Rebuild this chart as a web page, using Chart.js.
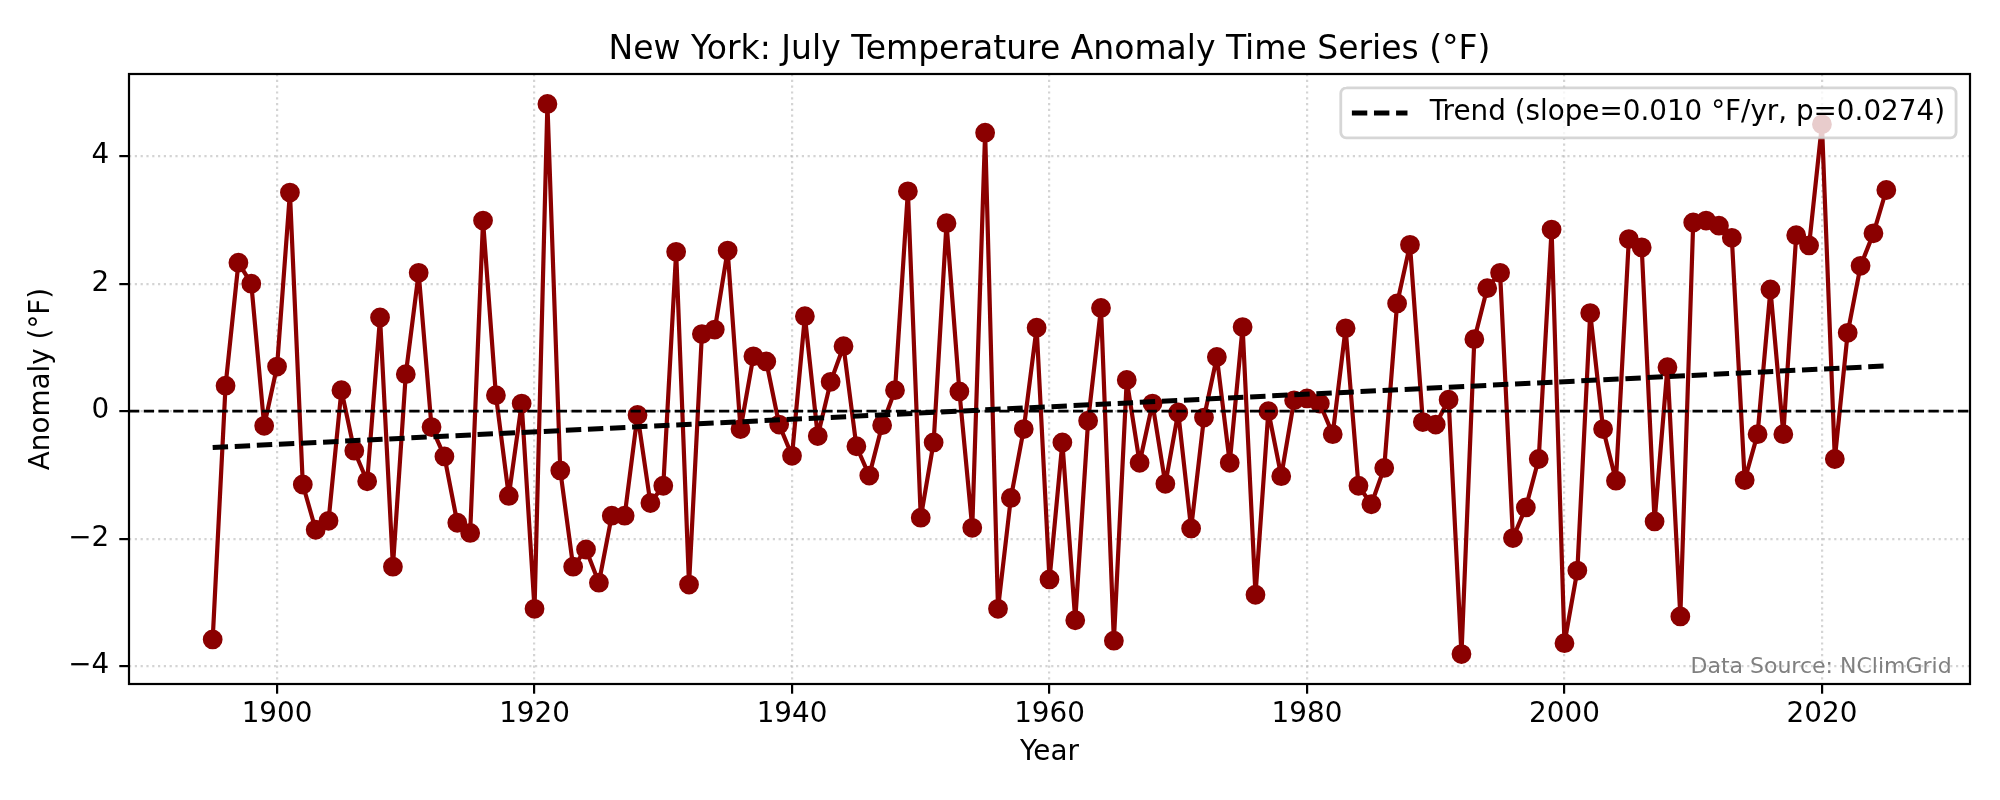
<!DOCTYPE html>
<html>
<head>
<meta charset="utf-8">
<title>New York July Temperature Anomaly</title>
<script src="https://cdn.jsdelivr.net/npm/chart.js@4.4.1/dist/chart.umd.min.js"></script>
<style>
  html, body { margin: 0; padding: 0; background: #fff; }
  #wrap { width: 2000px; height: 800px; }
</style>
</head>
<body>
<div id="wrap"><canvas id="myChart" width="2000" height="800"></canvas></div>
<script>
// July anomalies (°F)
const years = [
    1895, 1896, 1897, 1898, 1899, 1900, 1901, 1902, 1903, 1904,
    1905, 1906, 1907, 1908, 1909, 1910, 1911, 1912, 1913, 1914,
    1915, 1916, 1917, 1918, 1919, 1920, 1921, 1922, 1923, 1924,
    1925, 1926, 1927, 1928, 1929, 1930, 1931, 1932, 1933, 1934,
    1935, 1936, 1937, 1938, 1939, 1940, 1941, 1942, 1943, 1944,
    1945, 1946, 1947, 1948, 1949, 1950, 1951, 1952, 1953, 1954,
    1955, 1956, 1957, 1958, 1959, 1960, 1961, 1962, 1963, 1964,
    1965, 1966, 1967, 1968, 1969, 1970, 1971, 1972, 1973, 1974,
    1975, 1976, 1977, 1978, 1979, 1980, 1981, 1982, 1983, 1984,
    1985, 1986, 1987, 1988, 1989, 1990, 1991, 1992, 1993, 1994,
    1995, 1996, 1997, 1998, 1999, 2000, 2001, 2002, 2003, 2004,
    2005, 2006, 2007, 2008, 2009, 2010, 2011, 2012, 2013, 2014,
    2015, 2016, 2017, 2018, 2019, 2020, 2021, 2022, 2023, 2024,
    2025
];
const anomaly = [
    -3.58, 0.40, 2.33, 2.00, -0.23, 0.70, 3.43, -1.15, -1.86, -1.72,
    0.33, -0.62, -1.10, 1.47, -2.44, 0.58, 2.17, -0.25, -0.71, -1.75,
    -1.91, 2.99, 0.25, -1.33, 0.12, -3.10, 4.82, -0.93, -2.44, -2.17,
    -2.69, -1.64, -1.64, -0.06, -1.44, -1.17, 2.50, -2.72, 1.21, 1.28,
    2.52, -0.28, 0.86, 0.78, -0.21, -0.70, 1.49, -0.39, 0.46, 1.02,
    -0.55, -1.01, -0.22, 0.33, 3.45, -1.67, -0.49, 2.95, 0.31, -1.83,
    4.37, -3.10, -1.36, -0.28, 1.31, -2.64, -0.49, -3.28, -0.15, 1.62,
    -3.60, 0.49, -0.81, 0.12, -1.14, -0.02, -1.84, -0.10, 0.85, -0.81,
    1.32, -2.88, 0.00, -1.02, 0.17, 0.20, 0.12, -0.36, 1.30, -1.17,
    -1.46, -0.89, 1.69, 2.61, -0.17, -0.21, 0.18, -3.81, 1.13, 1.93,
    2.17, -1.99, -1.51, -0.75, 2.85, -3.64, -2.50, 1.54, -0.28, -1.09,
    2.70, 2.57, -1.73, 0.69, -3.22, 2.96, 2.99, 2.91, 2.72, -1.08,
    -0.36, 1.91, -0.36, 2.76, 2.60, 4.50, -0.75, 1.23, 2.28, 2.79,
    3.47
];

// trend line end points
const trendYears = [1895, 2025];
const trendValues = [-0.57, 0.71];

const xLimits = [1888.5, 2031.5];
const yLimits = [-4.28, 5.29];
const xTicks = [1900, 1920, 1940, 1960, 1980, 2000, 2020];
const yTicks = [-4, -2, 0, 2, 4];

const titleText = 'New York: July Temperature Anomaly Time Series (°F)';
const trendLabel = 'Trend (slope=0.010 °F/yr, p=0.0274)';
const sourceLabel = 'Data Source: NClimGrid';

const FONT = '"DejaVu Sans", "Liberation Sans", sans-serif';
Chart.defaults.font.family = FONT;
Chart.defaults.color = '#000';

const seriesPoints = years.map((y, i) => ({x: y, y: anomaly[i]}));
const trendPoints = trendYears.map((y, i) => ({x: y, y: trendValues[i]}));
const zeroPoints = xLimits.map(x => ({x: x, y: 0}));

// spines, source note and the legend box inside the axes
const overlay = {
    id: 'overlay',
    afterDatasetsDraw(chart) {
        const ctx = chart.ctx;
        const a = chart.chartArea;
        ctx.save();

        ctx.strokeStyle = '#000';
        ctx.lineWidth = 2.2;
        ctx.setLineDash([]);
        ctx.strokeRect(a.left, a.top, a.right - a.left, a.bottom - a.top);

        ctx.font = '22px ' + FONT;
        ctx.fillStyle = '#808080';
        ctx.textAlign = 'right';
        ctx.textBaseline = 'bottom';
        ctx.fillText(sourceLabel, a.left + 0.99 * (a.right - a.left), a.bottom - 0.01 * (a.bottom - a.top));

        const fs = 27.8;
        const ds = chart.data.datasets[0];
        ctx.font = fs + 'px ' + FONT;
        const tw = ctx.measureText(ds.label).width;
        const w = 0.4 * fs + 2 * fs + 0.8 * fs + tw + 0.4 * fs;
        const h = 50;
        const x = a.right - 0.5 * fs - w;
        const y = a.top + 0.5 * fs;
        const r = 0.2 * fs;
        ctx.beginPath();
        ctx.moveTo(x + r, y);
        ctx.lineTo(x + w - r, y);
        ctx.arcTo(x + w, y, x + w, y + r, r);
        ctx.lineTo(x + w, y + h - r);
        ctx.arcTo(x + w, y + h, x + w - r, y + h, r);
        ctx.lineTo(x + r, y + h);
        ctx.arcTo(x, y + h, x, y + h - r, r);
        ctx.lineTo(x, y + r);
        ctx.arcTo(x, y, x + r, y, r);
        ctx.closePath();
        ctx.fillStyle = 'rgba(255,255,255,0.8)';
        ctx.fill();
        ctx.strokeStyle = 'rgba(204,204,204,0.8)';
        ctx.lineWidth = 2.8;
        ctx.stroke();

        const cy = y + h / 2;
        ctx.beginPath();
        ctx.strokeStyle = ds.borderColor;
        ctx.lineWidth = ds.borderWidth;
        ctx.setLineDash(ds.borderDash);
        ctx.moveTo(x + 0.4 * fs, cy);
        ctx.lineTo(x + 2.4 * fs, cy);
        ctx.stroke();
        ctx.setLineDash([]);

        ctx.fillStyle = '#000';
        ctx.textAlign = 'left';
        ctx.textBaseline = 'middle';
        ctx.fillText(ds.label, x + 3.2 * fs, cy);
        ctx.restore();
    }
};

const config = {
    type: 'line',
    data: {
        datasets: [{
            label: trendLabel,
            data: trendPoints,
            borderColor: '#000',
            borderWidth: 5,
            borderDash: [15.4, 6.7],
            pointRadius: 0,
            fill: false,
            order: 0
        }, {
            label: 'zero',
            data: zeroPoints,
            borderColor: '#000',
            borderWidth: 2.8,
            borderDash: [10.3, 4.45],
            pointRadius: 0,
            fill: false,
            order: 1
        }, {
            label: 'Anomaly',
            data: seriesPoints,
            borderColor: '#8b0000',
            borderWidth: 4.2,
            borderJoinStyle: 'round',
            pointRadius: 8.5,
            pointBorderWidth: 2.8,
            pointBackgroundColor: '#8b0000',
            pointBorderColor: '#8b0000',
            tension: 0,
            fill: false,
            order: 2
        }]
    },
    options: {
        responsive: false,
        devicePixelRatio: 1,
        animation: false,
        events: [],
        layout: { padding: { left: 0, right: 30, top: 0, bottom: 0 } },
        plugins: {
            legend: { display: false },
            tooltip: { enabled: false },
            title: {
                display: true,
                text: titleText,
                fullSize: false,
                color: '#000',
                font: { size: 33, weight: 'normal' },
                padding: { top: 31, bottom: 3.4 }
            }
        },
        scales: {
            x: {
                type: 'linear',
                min: xLimits[0],
                max: xLimits[1],
                afterFit: (s) => { s.height = 116; },
                afterBuildTicks: (s) => { s.ticks = xTicks.map(v => ({value: v})); },
                ticks: {
                    color: '#000',
                    font: { size: 27.8 },
                    padding: 4.6,
                    maxRotation: 0,
                    autoSkip: false,
                    callback: (v) => String(v)
                },
                grid: {
                    color: 'rgba(176,176,176,0.55)',
                    lineWidth: 2.2,
                    tickColor: '#000',
                    tickWidth: 2.2,
                    tickLength: 9.7,
                    tickBorderDash: []
                },
                border: { display: false, dash: [2.2, 3.6] },
                title: {
                    display: true,
                    text: 'Year',
                    color: '#000',
                    font: { size: 27.8 },
                    padding: { top: 0, bottom: 30.3 }
                }
            },
            y: {
                type: 'linear',
                min: yLimits[0],
                max: yLimits[1],
                afterFit: (s) => { s.width = 129; },
                afterBuildTicks: (s) => { s.ticks = yTicks.map(v => ({value: v})); },
                ticks: {
                    color: '#000',
                    font: { size: 27.8 },
                    padding: 10,
                    autoSkip: false,
                    callback: (v) => (v < 0 ? '\u2212' + Math.abs(v) : String(v))
                },
                grid: {
                    color: 'rgba(176,176,176,0.55)',
                    lineWidth: 2.2,
                    tickColor: '#000',
                    tickWidth: 2.2,
                    tickLength: 9.7,
                    tickBorderDash: []
                },
                border: { display: false, dash: [2.2, 3.6] },
                title: {
                    display: true,
                    text: 'Anomaly (°F)',
                    color: '#000',
                    font: { size: 27.8 },
                    padding: { top: 25, bottom: 0 }
                }
            }
        }
    },
    plugins: [overlay]
};

const myChart = new Chart(document.getElementById('myChart'), config);
</script>
</body>
</html>
